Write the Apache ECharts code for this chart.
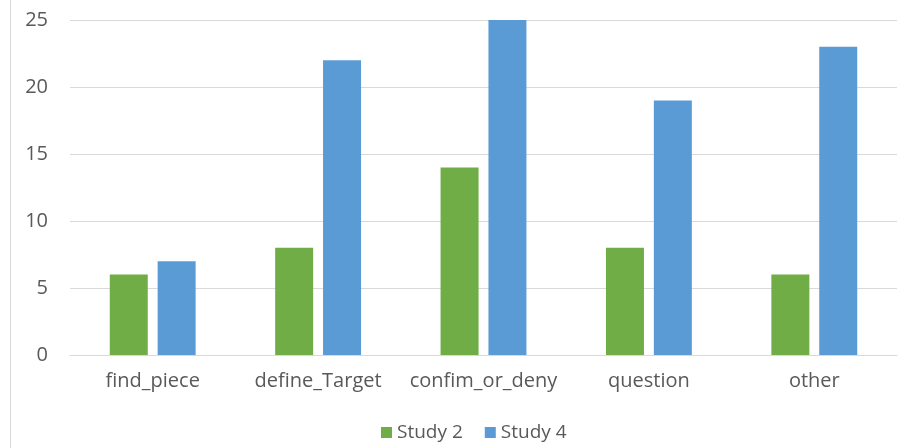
<!DOCTYPE html>
<html>
<head>
<meta charset="utf-8">
<script src="https://cdn.jsdelivr.net/npm/echarts@6/dist/echarts.min.js"></script>
<style>html,body{margin:0;padding:0;background:#fff;}#c{width:913px;height:448px;}</style>
</head>
<body>
<div id="c"></div>
<script>
const categories = ['find_piece', 'define_Target', 'confim_or_deny', 'question', 'other'];
const study2 = [6, 8, 14, 8, 6];
const study4 = [7, 22, 25, 19, 23];
const yTicks = { min: 0, max: 25, interval: 5 };

const chart = echarts.init(document.getElementById('c'));
const font = 'Open Sans, Noto Sans, sans-serif';
chart.setOption({
  animation: false,
  graphic: [{
    type: 'line', shape: { x1: 10.5, y1: 0, x2: 10.5, y2: 448 },
    style: { stroke: '#d9d9d9', lineWidth: 1 }
  }],
  grid: { left: 70, right: 16, top: 20, bottom: 93, containLabel: false },
  legend: {
    bottom: 1, left: 376, itemWidth: 11, itemHeight: 11, itemGap: 22,
    icon: 'rect',
    textStyle: { color: '#595959', fontSize: 19, fontFamily: font },
    data: ['Study 2', 'Study 4']
  },
  xAxis: {
    type: 'category', data: categories,
    axisLine: { lineStyle: { color: '#d9d9d9', width: 1 } },
    axisTick: { show: false },
    axisLabel: { color: '#595959', fontSize: 20, fontFamily: font, margin: 16,
      interval: 0, hideOverlap: false }
  },
  yAxis: {
    type: 'value', min: yTicks.min, max: yTicks.max, interval: yTicks.interval,
    axisLine: { show: false }, axisTick: { show: false },
    splitLine: { lineStyle: { color: '#d9d9d9', width: 1 } },
    axisLabel: { color: '#595959', fontSize: 20, fontFamily: font, margin: 22 }
  },
  series: [
    { name: 'Study 2', type: 'bar', data: study2, barWidth: 38, barGap: '26%',
      itemStyle: { color: '#70ad47' } },
    { name: 'Study 4', type: 'bar', data: study4, barWidth: 38,
      itemStyle: { color: '#5b9bd5' } }
  ]
});
</script>
</body>
</html>
